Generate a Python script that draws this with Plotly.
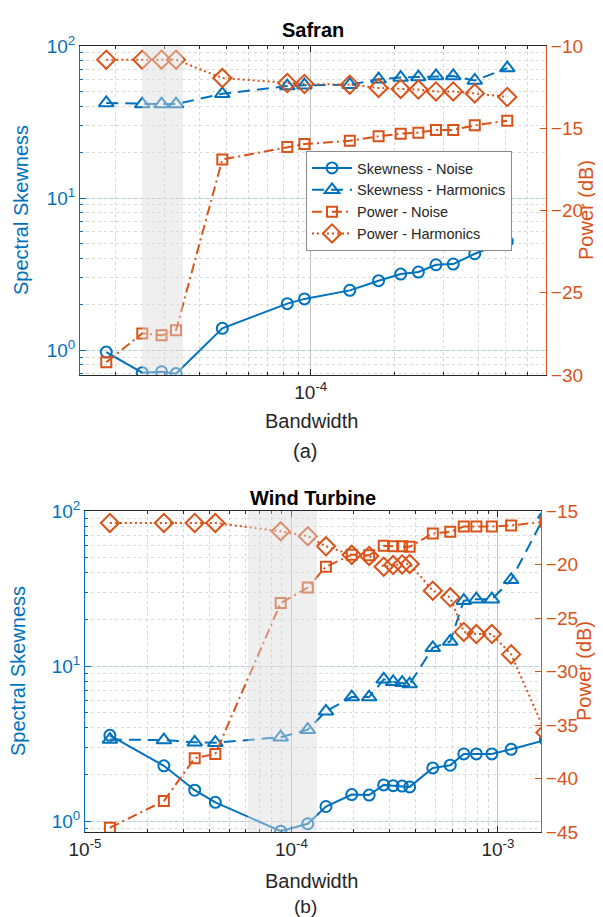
import plotly.graph_objects as go

# ---------------- data ----------------
# (a) Safran
bw_a = [1.85e-5, 2.49e-5, 2.92e-5, 3.29e-5, 4.82e-5, 8.24e-5, 9.49e-5, 1.38e-4,
        1.75e-4, 2.10e-4, 2.43e-4, 2.81e-4, 3.24e-4, 3.87e-4, 5.06e-4]
skew_noise_a = [0.97, 0.71, 0.72, 0.70, 1.39, 2.02, 2.17, 2.47, 2.86, 3.16, 3.26,
                3.64, 3.68, 4.30, 5.19]
skew_harm_a = [42.2, 41.5, 41.5, 41.5, 48.5, 54.5, 55.2, 55.6, 60.5, 62.0, 62.5,
               63.5, 63.5, 59.3, 71.6]
pow_noise_a = [-29.23, -27.47, -27.59, -27.28, -16.9, -16.14, -15.96, -15.76,
               -15.49, -15.33, -15.27, -15.1, -15.1, -14.82, -14.54]
pow_harm_a = [-10.83, -10.83, -10.83, -10.83, -11.95, -12.25, -12.31, -12.35,
              -12.55, -12.61, -12.65, -12.76, -12.76, -12.88, -13.1]
shade_a = [2.49e-5, 3.48e-5]

# (b) Wind Turbine
bw_b = [1.32e-5, 2.41e-5, 3.40e-5, 4.28e-5, 8.87e-5, 1.20e-4, 1.47e-4, 1.96e-4,
        2.38e-4, 2.80e-4, 3.11e-4, 3.44e-4, 3.74e-4, 4.84e-4, 5.88e-4, 6.84e-4,
        7.87e-4, 9.35e-4, 1.16e-3, 1.70e-3]
skew_noise_b = [3.57, 2.27, 1.58, 1.32, 0.86, 0.96, 1.24, 1.48, 1.47, 1.71, 1.69,
                1.68, 1.66, 2.20, 2.29, 2.71, 2.71, 2.71, 2.90, 3.33]
skew_harm_b = [3.35, 3.33, 3.22, 3.20, 3.47, 3.88, 5.1, 6.3, 6.3, 8.2, 7.9, 7.8,
               7.65, 13.1, 14.4, 26.4, 27.0, 27.0, 36.0, 95.0]
pow_noise_b = [-44.6, -42.1, -38.1, -37.7, -23.6, -22.15, -20.2, -19.08, -19.14,
               -18.24, -18.3, -18.3, -18.35, -17.1, -16.95, -16.45, -16.45, -16.45,
               -16.35, -16.0]
pow_harm_b = [-16.12, -16.12, -16.12, -16.12, -16.9, -17.35, -18.3, -19.1, -19.2,
              -20.2, -20.05, -20.0, -19.95, -22.45, -23.07, -26.3, -26.5, -26.5,
              -28.4, -35.7]
shade_b = [6.15e-5, 1.33e-4]

series_names = ["Skewness - Noise", "Skewness - Harmonics", "Power - Noise", "Power - Harmonics"]
titles = ["Safran", "Wind Turbine"]
panel_labels = ["(a)", "(b)"]

xtick_vals_a = [1e-4]
xtick_text_a = ["10<sup>-4</sup>"]
xtick_vals_b = [1e-5, 1e-4, 1e-3]
xtick_text_b = ["10<sup>-5</sup>", "10<sup>-4</sup>", "10<sup>-3</sup>"]
ytick_vals = [1, 10, 100]
ytick_text = ["10<sup>0</sup>", "10<sup>1</sup>", "10<sup>2</sup>"]
y2_ticks_a = [-30, -25, -20, -15, -10]
y2_ticks_b = [-45, -40, -35, -30, -25, -20, -15]

# ---------------- style ----------------
W, H = 603, 917
BLUE = "#0072BD"
ORANGE = "#D95319"
DARK = "#262626"
FONT = "Liberation Sans, Arial, Helvetica, sans-serif"
TICK_FS = 19
LABEL_FS = 20


def px(x):
    return x / W


def py(y):
    return 1 - y / H


fig = go.Figure()


def add_series(bw, sn, sh, pn, ph, xa, ya, y2a, showlegend):
    common = dict(mode="lines+markers", xaxis=xa, showlegend=showlegend, cliponaxis=True)
    fig.add_trace(go.Scatter(x=bw, y=sn, yaxis=ya, name=series_names[0],
                             line=dict(color=BLUE, width=2, dash="solid"),
                             marker=dict(symbol="circle-open", size=11, color=BLUE,
                                         line=dict(width=2, color=BLUE)), **common))
    fig.add_trace(go.Scatter(x=bw, y=sh, yaxis=ya, name=series_names[1],
                             line=dict(color=BLUE, width=2, dash="12px,7px"),
                             marker=dict(symbol="triangle-up-open", size=13, color=BLUE,
                                         line=dict(width=2, color=BLUE)), **common))
    fig.add_trace(go.Scatter(x=bw, y=pn, yaxis=y2a, name=series_names[2],
                             line=dict(color=ORANGE, width=2, dash="10px,4px,2px,4px"),
                             marker=dict(symbol="square-open", size=10, color=ORANGE,
                                         line=dict(width=2, color=ORANGE)), **common))
    fig.add_trace(go.Scatter(x=bw, y=ph, yaxis=y2a, name=series_names[3],
                             line=dict(color=ORANGE, width=2, dash="2px,3px"),
                             marker=dict(symbol="diamond-open", size=14, color=ORANGE,
                                         line=dict(width=2, color=ORANGE)), **common))


add_series(bw_a, skew_noise_a, skew_harm_a, pow_noise_a, pow_harm_a, "x", "y", "y2", True)
add_series(bw_b, skew_noise_b, skew_harm_b, pow_noise_b, pow_harm_b, "x2", "y3", "y4", False)

tickfont_x = dict(family=FONT, size=TICK_FS, color=DARK)
tickfont_l = dict(family=FONT, size=TICK_FS, color=BLUE)
tickfont_r = dict(family=FONT, size=TICK_FS, color=ORANGE)


def xaxis_cfg(domain, anchor, rng, tv, tt):
    return dict(domain=domain, anchor=anchor, type="log", range=rng,
                tickmode="array", tickvals=tv, ticktext=tt, tickfont=tickfont_x,
                ticks="inside", ticklen=6, tickcolor=DARK, showline=True, linecolor=DARK,
                linewidth=1, mirror="ticks", showgrid=True, gridcolor="#c4c4c4", gridwidth=1,
                minor=dict(dtick="D1", showgrid=True, gridcolor="#d6d6d6", griddash="dot",
                           ticks="inside", ticklen=3, tickcolor=DARK),
                zeroline=False, automargin=False)


def yaxis_cfg(domain, anchor, rng):
    return dict(domain=domain, anchor=anchor, type="log", range=rng,
                tickmode="array", tickvals=ytick_vals, ticktext=ytick_text,
                tickfont=tickfont_l, ticks="inside", ticklen=6, tickcolor=BLUE,
                showline=True, linecolor=BLUE, linewidth=1,
                showgrid=True, gridcolor="rgba(0,114,189,0.15)", gridwidth=1.2,
                minor=dict(dtick="D1", showgrid=True, gridcolor="#dadada", griddash="dot",
                           ticks="inside", ticklen=3, tickcolor=BLUE),
                zeroline=False, automargin=False)


def y2axis_cfg(overlay, anchor, rng, tv):
    return dict(overlaying=overlay, anchor=anchor, side="right", range=rng,
                tickmode="array", tickvals=tv, tickfont=tickfont_r, ticks="inside",
                ticklen=6, tickcolor=ORANGE, showline=True, linecolor=ORANGE, linewidth=1,
                showgrid=False, zeroline=False, automargin=False)


dom_xa = [px(72), px(538)]
dom_ya = [py(367), py(38)]
dom_xb = [px(77), px(533)]
dom_yb = [py(824), py(503)]

fig.update_layout(
    width=W, height=H, template="none",
    paper_bgcolor="white", plot_bgcolor="white",
    margin=dict(l=0, r=0, t=0, b=0),
    font=dict(family=FONT, size=TICK_FS, color=DARK),
    xaxis=xaxis_cfg(dom_xa, "y", [-4.827, -3.157], xtick_vals_a, xtick_text_a),
    yaxis=yaxis_cfg(dom_ya, "x", [-0.164, 2.0]),
    yaxis2=y2axis_cfg("y", "x", [-30, -10], y2_ticks_a),
    xaxis2=xaxis_cfg(dom_xb, "y3", [-5.0, -2.791], xtick_vals_b, xtick_text_b),
    yaxis3=yaxis_cfg(dom_yb, "x2", [-0.071, 2.0]),
    yaxis4=y2axis_cfg("y3", "x2", [-45, -15], y2_ticks_b),
    legend=dict(x=px(298), y=py(143), xanchor="left", yanchor="top",
                bgcolor="white", bordercolor="#8a8a8a", borderwidth=1,
                font=dict(family=FONT, size=14.5, color=DARK),
                itemwidth=40, tracegroupgap=0),
    showlegend=True,
)

# shaded bandwidth regions (drawn above the data, semi transparent)
fig.add_shape(type="rect", xref="x", yref="y domain", x0=shade_a[0], x1=shade_a[1],
              y0=0, y1=1, fillcolor="#dcdcdc", opacity=0.45, line=dict(width=0),
              layer="above")
fig.add_shape(type="rect", xref="x2", yref="y3 domain", x0=shade_b[0], x1=shade_b[1],
              y0=0, y1=1, fillcolor="#dcdcdc", opacity=0.45, line=dict(width=0),
              layer="above")

ann = []


def text(t, x, y, size, color, bold=False, angle=0):
    ann.append(dict(text=("<b>%s</b>" % t) if bold else t, x=px(x), y=py(y),
                    xref="paper", yref="paper", xanchor="center", yanchor="middle",
                    showarrow=False, textangle=angle,
                    font=dict(family=FONT, size=size, color=color)))


# panel (a)
text(titles[0], 305, 22, 20, "#000000", bold=True)
text("Spectral Skewness", 13, 202, LABEL_FS, BLUE, angle=-90)
text("Power (dB)", 578, 202, LABEL_FS, ORANGE, angle=-90)
text("Bandwidth", 303, 413, LABEL_FS, DARK)
text(panel_labels[0], 297, 443, LABEL_FS, DARK)
# panel (b)
text(titles[1], 305, 490, 20, "#000000", bold=True)
text("Spectral Skewness", 10, 663, LABEL_FS, BLUE, angle=-90)
text("Power (dB)", 576, 663, LABEL_FS, ORANGE, angle=-90)
text("Bandwidth", 303, 873, LABEL_FS, DARK)
text(panel_labels[1], 297, 898, 19, DARK)

fig.update_layout(annotations=ann)

fig.write_html("out.html")
